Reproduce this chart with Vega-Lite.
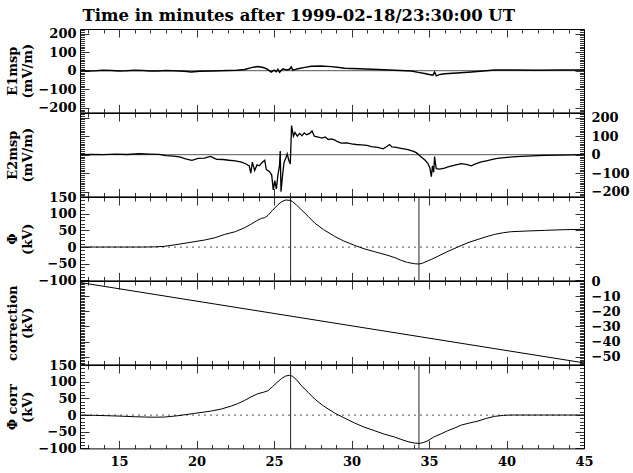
{
  "$schema": "https://vega.github.io/schema/vega-lite/v6.json",
  "padding": {"left": 5, "top": 7, "right": 5, "bottom": 5},
  "title": {"text": "Time in minutes after 1999-02-18/23:30:00 UT", "anchor": "start", "dx": 77, "font": "DejaVu Serif", "fontSize": 16.5, "fontWeight": "bold", "color": "black", "offset": -1},
  "datasets": {
    "e1": [
      {"t": 12.48, "v": 1}, {"t": 13.0, "v": -1}, {"t": 13.5, "v": 0}, {"t": 14.0, "v": 2}, {"t": 14.5, "v": 1}, {"t": 15.0, "v": -1},
      {"t": 15.5, "v": 0}, {"t": 16.0, "v": 2}, {"t": 16.5, "v": 1}, {"t": 17.0, "v": -1}, {"t": 17.5, "v": -1}, {"t": 18.0, "v": 1},
      {"t": 18.5, "v": 0}, {"t": 19.2, "v": -3}, {"t": 19.66, "v": -7}, {"t": 20.2, "v": -3}, {"t": 21.0, "v": -2}, {"t": 22.0, "v": 1},
      {"t": 22.6, "v": 2}, {"t": 23.11, "v": 7}, {"t": 23.6, "v": 18}, {"t": 23.96, "v": 22}, {"t": 24.3, "v": 17}, {"t": 24.5, "v": 11},
      {"t": 24.82, "v": -7}, {"t": 25.0, "v": 3}, {"t": 25.15, "v": -5}, {"t": 25.25, "v": 7}, {"t": 25.36, "v": -8}, {"t": 25.5, "v": 5},
      {"t": 25.58, "v": 10}, {"t": 25.8, "v": 4}, {"t": 26.0, "v": 8}, {"t": 26.11, "v": 20}, {"t": 26.22, "v": 2}, {"t": 26.54, "v": 11},
      {"t": 27.0, "v": 18}, {"t": 27.4, "v": 24}, {"t": 28.0, "v": 25}, {"t": 28.69, "v": 22}, {"t": 29.2, "v": 17}, {"t": 29.56, "v": 13},
      {"t": 30.5, "v": 10}, {"t": 31.71, "v": 7}, {"t": 32.8, "v": 2}, {"t": 33.86, "v": -2}, {"t": 34.3, "v": -9}, {"t": 34.72, "v": -15},
      {"t": 35.0, "v": -20}, {"t": 35.25, "v": -24}, {"t": 35.36, "v": -8}, {"t": 35.47, "v": -28}, {"t": 35.7, "v": -20}, {"t": 36.01, "v": -16},
      {"t": 36.8, "v": -12}, {"t": 37.73, "v": -7}, {"t": 38.5, "v": -2}, {"t": 39.23, "v": 4}, {"t": 40.5, "v": 4}, {"t": 42.0, "v": 3},
      {"t": 43.5, "v": 4}, {"t": 45.0, "v": 4}
    ],
    "e2": [
      {"t": 12.48, "v": 0}, {"t": 13.2, "v": 2}, {"t": 14.0, "v": 0}, {"t": 14.8, "v": 3}, {"t": 15.5, "v": 1}, {"t": 16.3, "v": 5},
      {"t": 17.0, "v": 3}, {"t": 17.6, "v": 2}, {"t": 18.0, "v": -5}, {"t": 18.5, "v": -8}, {"t": 18.9, "v": -12}, {"t": 19.3, "v": -22},
      {"t": 19.7, "v": -30}, {"t": 20.1, "v": -20}, {"t": 20.5, "v": -18}, {"t": 20.9, "v": -9}, {"t": 21.3, "v": -25}, {"t": 21.7, "v": -26},
      {"t": 22.1, "v": -30}, {"t": 22.5, "v": -33}, {"t": 22.9, "v": -40}, {"t": 23.2, "v": -50}, {"t": 23.4, "v": -60}, {"t": 23.5, "v": -100},
      {"t": 23.6, "v": -40}, {"t": 23.75, "v": -85}, {"t": 23.9, "v": -55}, {"t": 24.05, "v": -60}, {"t": 24.2, "v": -45}, {"t": 24.4, "v": -30},
      {"t": 24.5, "v": -80}, {"t": 24.7, "v": -90}, {"t": 24.85, "v": -110}, {"t": 24.95, "v": -190}, {"t": 25.05, "v": -140}, {"t": 25.15, "v": -185},
      {"t": 25.25, "v": -110}, {"t": 25.35, "v": -60}, {"t": 25.4, "v": 20}, {"t": 25.45, "v": -200}, {"t": 25.55, "v": -110}, {"t": 25.65, "v": -40},
      {"t": 25.75, "v": -20}, {"t": 25.85, "v": 5}, {"t": 25.95, "v": -30}, {"t": 26.05, "v": -50}, {"t": 26.1, "v": 80}, {"t": 26.13, "v": 157},
      {"t": 26.25, "v": 100}, {"t": 26.35, "v": 120}, {"t": 26.5, "v": 100}, {"t": 26.65, "v": 115}, {"t": 26.8, "v": 102}, {"t": 26.95, "v": 118},
      {"t": 27.1, "v": 108}, {"t": 27.3, "v": 115}, {"t": 27.45, "v": 128}, {"t": 27.6, "v": 100}, {"t": 27.85, "v": 95}, {"t": 28.1, "v": 90},
      {"t": 28.3, "v": 96}, {"t": 28.5, "v": 82}, {"t": 28.7, "v": 85}, {"t": 28.9, "v": 80}, {"t": 29.1, "v": 70}, {"t": 29.34, "v": 62},
      {"t": 29.7, "v": 64}, {"t": 30.0, "v": 58}, {"t": 30.3, "v": 55}, {"t": 30.63, "v": 53}, {"t": 31.0, "v": 50}, {"t": 31.27, "v": 44},
      {"t": 31.7, "v": 40}, {"t": 32.03, "v": 32}, {"t": 32.2, "v": 40}, {"t": 32.46, "v": 55}, {"t": 32.6, "v": 42}, {"t": 32.78, "v": 41},
      {"t": 33.2, "v": 34}, {"t": 33.64, "v": 27}, {"t": 34.0, "v": 18}, {"t": 34.18, "v": 11}, {"t": 34.5, "v": -12}, {"t": 34.75, "v": -30},
      {"t": 34.93, "v": -48}, {"t": 35.05, "v": -70}, {"t": 35.15, "v": -119}, {"t": 35.22, "v": -60}, {"t": 35.3, "v": -95}, {"t": 35.36, "v": -10},
      {"t": 35.42, "v": -50}, {"t": 35.47, "v": -75}, {"t": 35.69, "v": -78}, {"t": 36.0, "v": -72}, {"t": 36.22, "v": -66}, {"t": 36.6, "v": -58},
      {"t": 37.08, "v": -48}, {"t": 37.4, "v": -52}, {"t": 37.73, "v": -60}, {"t": 38.0, "v": -50}, {"t": 38.37, "v": -39}, {"t": 38.7, "v": -33},
      {"t": 39.02, "v": -27}, {"t": 39.4, "v": -20}, {"t": 39.88, "v": -16}, {"t": 40.4, "v": -12}, {"t": 40.95, "v": -9}, {"t": 41.7, "v": -6},
      {"t": 42.46, "v": -4}, {"t": 43.5, "v": -2}, {"t": 44.3, "v": -1}, {"t": 45.0, "v": 0}
    ],
    "phi": [
      {"t": 12.48, "v": 0}, {"t": 13.5, "v": 0}, {"t": 14.5, "v": 0}, {"t": 15.5, "v": 0}, {"t": 16.5, "v": 0}, {"t": 17.3, "v": 0.5},
      {"t": 17.9, "v": 2}, {"t": 18.59, "v": 6.5}, {"t": 19.45, "v": 13}, {"t": 20.52, "v": 21}, {"t": 21.2, "v": 28}, {"t": 21.82, "v": 38},
      {"t": 22.5, "v": 46}, {"t": 23.11, "v": 58}, {"t": 23.5, "v": 68}, {"t": 23.96, "v": 81}, {"t": 24.2, "v": 86}, {"t": 24.4, "v": 88},
      {"t": 24.61, "v": 95}, {"t": 24.9, "v": 110}, {"t": 25.25, "v": 127}, {"t": 25.5, "v": 136}, {"t": 25.75, "v": 141}, {"t": 26.03, "v": 140},
      {"t": 26.2, "v": 136}, {"t": 26.45, "v": 126}, {"t": 26.76, "v": 112}, {"t": 27.2, "v": 92}, {"t": 27.62, "v": 72}, {"t": 28.2, "v": 52},
      {"t": 28.91, "v": 32}, {"t": 29.5, "v": 18}, {"t": 30.2, "v": 5}, {"t": 30.8, "v": -5}, {"t": 31.49, "v": -14}, {"t": 32.35, "v": -25},
      {"t": 32.8, "v": -32}, {"t": 33.21, "v": -40}, {"t": 33.6, "v": -46}, {"t": 34.07, "v": -50}, {"t": 34.35, "v": -51}, {"t": 34.6, "v": -48},
      {"t": 35.15, "v": -37}, {"t": 35.6, "v": -27}, {"t": 36.22, "v": -13}, {"t": 36.8, "v": -1}, {"t": 37.51, "v": 13}, {"t": 38.16, "v": 23},
      {"t": 38.7, "v": 31}, {"t": 39.23, "v": 38}, {"t": 39.8, "v": 43}, {"t": 40.31, "v": 46}, {"t": 41.3, "v": 48}, {"t": 42.46, "v": 50},
      {"t": 43.7, "v": 52}, {"t": 45.0, "v": 53}
    ],
    "corr": [
      {"t": 12.48, "v": -1}, {"t": 45.0, "v": -54}
    ],
    "phic": [
      {"t": 12.48, "v": 0}, {"t": 13.5, "v": -1}, {"t": 14.93, "v": -3}, {"t": 16.0, "v": -5}, {"t": 16.65, "v": -6}, {"t": 17.3, "v": -6.5},
      {"t": 17.94, "v": -6}, {"t": 18.4, "v": -4}, {"t": 18.8, "v": -2}, {"t": 19.88, "v": 5}, {"t": 20.95, "v": 12}, {"t": 21.6, "v": 18},
      {"t": 22.24, "v": 27}, {"t": 22.7, "v": 35}, {"t": 23.11, "v": 44}, {"t": 23.5, "v": 54}, {"t": 23.96, "v": 64}, {"t": 24.3, "v": 68},
      {"t": 24.61, "v": 73}, {"t": 24.9, "v": 85}, {"t": 25.2, "v": 98}, {"t": 25.5, "v": 110}, {"t": 25.75, "v": 117}, {"t": 26.0, "v": 119},
      {"t": 26.2, "v": 116}, {"t": 26.45, "v": 106}, {"t": 26.76, "v": 88}, {"t": 27.2, "v": 68}, {"t": 27.62, "v": 48}, {"t": 28.2, "v": 27},
      {"t": 28.91, "v": 6}, {"t": 29.5, "v": -8}, {"t": 30.2, "v": -24}, {"t": 30.8, "v": -36}, {"t": 31.49, "v": -47}, {"t": 32.1, "v": -57},
      {"t": 32.78, "v": -66}, {"t": 33.2, "v": -73}, {"t": 33.64, "v": -80}, {"t": 34.07, "v": -84}, {"t": 34.35, "v": -85}, {"t": 34.6, "v": -83},
      {"t": 34.93, "v": -77}, {"t": 35.3, "v": -66}, {"t": 35.79, "v": -56}, {"t": 36.2, "v": -47}, {"t": 36.65, "v": -39}, {"t": 37.09, "v": -30},
      {"t": 37.51, "v": -25}, {"t": 38.16, "v": -18}, {"t": 38.7, "v": -10}, {"t": 39.23, "v": -4}, {"t": 39.8, "v": -1}, {"t": 40.31, "v": 0},
      {"t": 41.5, "v": 0}, {"t": 43.0, "v": 0}, {"t": 45.0, "v": 0}
    ],
    "zero": [{"v": 0}],
    "marks": [{"t": 26.07}, {"t": 34.35}]
  },
  "spacing": 0,
  "bounds": "flush",
  "vconcat": [
    {
      "width": 504, "height": 83.4,
      "layer": [
        {"data": {"name": "zero"}, "mark": {"type": "rule", "color": "#555", "strokeWidth": 1}, "encoding": {"y": {"field": "v", "type": "quantitative", "axis": null}}},
        {"data": {"name": "e1"}, "mark": {"type": "line", "color": "black", "strokeWidth": 1.5, "clip": true},
          "encoding": {
            "x": {"field": "t", "type": "quantitative", "scale": {"domain": [12.48, 45], "nice": false, "zero": false},
              "axis": {"orient": "bottom", "values": [13,14,15,16,17,18,19,20,21,22,23,24,25,26,27,28,29,30,31,32,33,34,35,36,37,38,39,40,41,42,43,44,45], "labels": false, "title": null, "tickSize": {"condition": {"test": "datum.value % 5 === 0", "value": -8}, "value": -4}}},
            "y": {"field": "v", "type": "quantitative", "scale": {"domain": [-225, 225], "nice": false, "zero": false},
              "axis": {"orient": "left", "values": [-220,-210,-200,-190,-180,-170,-160,-150,-140,-130,-120,-110,-100,-90,-80,-70,-60,-50,-40,-30,-20,-10,0,10,20,30,40,50,60,70,80,90,100,110,120,130,140,150,160,170,180,190,200,210,220], "labelExpr": "datum.value % 100 === 0 ? datum.label : ''", "tickSize": {"condition": {"test": "datum.value % 100 === 0", "value": -9}, "value": -4.5}, "labelPadding": 13, "title": ["E1msp", "(mV/m)"], "titleX": -74, "titleY": 41.7, "titleBaseline": "top", "titleAlign": "center"}}
          }},
        {"data": {"name": "e1"}, "mark": {"type": "line", "opacity": 0},
          "encoding": {
            "x": {"field": "t", "type": "quantitative", "axis": {"orient": "top", "values": [13,14,15,16,17,18,19,20,21,22,23,24,25,26,27,28,29,30,31,32,33,34,35,36,37,38,39,40,41,42,43,44,45], "labels": false, "title": null, "tickSize": {"condition": {"test": "datum.value % 5 === 0", "value": -8}, "value": -4}}},
            "y": {"field": "v", "type": "quantitative", "axis": {"orient": "right", "values": [-220,-210,-200,-190,-180,-170,-160,-150,-140,-130,-120,-110,-100,-90,-80,-70,-60,-50,-40,-30,-20,-10,0,10,20,30,40,50,60,70,80,90,100,110,120,130,140,150,160,170,180,190,200,210,220], "labels": false, "title": null, "tickSize": {"condition": {"test": "datum.value % 100 === 0", "value": -9}, "value": -4.5}}}
          }}
      ]
    },
    {
      "width": 504, "height": 83.4,
      "layer": [
        {"data": {"name": "zero"}, "mark": {"type": "rule", "color": "#555", "strokeWidth": 1}, "encoding": {"y": {"field": "v", "type": "quantitative", "axis": null}}},
        {"data": {"name": "e2"}, "mark": {"type": "line", "color": "black", "strokeWidth": 1.3, "clip": true},
          "encoding": {
            "x": {"field": "t", "type": "quantitative", "scale": {"domain": [12.48, 45], "nice": false, "zero": false},
              "axis": {"orient": "bottom", "values": [13,14,15,16,17,18,19,20,21,22,23,24,25,26,27,28,29,30,31,32,33,34,35,36,37,38,39,40,41,42,43,44,45], "labels": false, "title": null, "tickSize": {"condition": {"test": "datum.value % 5 === 0", "value": -8}, "value": -4}}},
            "y": {"field": "v", "type": "quantitative", "scale": {"domain": [-225, 225], "nice": false, "zero": false},
              "axis": {"orient": "left", "values": [-220,-210,-200,-190,-180,-170,-160,-150,-140,-130,-120,-110,-100,-90,-80,-70,-60,-50,-40,-30,-20,-10,0,10,20,30,40,50,60,70,80,90,100,110,120,130,140,150,160,170,180,190,200,210,220], "labels": false, "tickSize": {"condition": {"test": "datum.value % 100 === 0", "value": -9}, "value": -4.5}, "title": ["E2msp", "(mV/m)"], "titleX": -74, "titleY": 41.7, "titleBaseline": "top", "titleAlign": "center"}}
          }},
        {"data": {"name": "e2"}, "mark": {"type": "line", "opacity": 0},
          "encoding": {
            "x": {"field": "t", "type": "quantitative", "axis": {"orient": "top", "values": [13,14,15,16,17,18,19,20,21,22,23,24,25,26,27,28,29,30,31,32,33,34,35,36,37,38,39,40,41,42,43,44,45], "labels": false, "title": null, "tickSize": {"condition": {"test": "datum.value % 5 === 0", "value": -8}, "value": -4}}},
            "y": {"field": "v", "type": "quantitative", "axis": {"orient": "right", "values": [-220,-210,-200,-190,-180,-170,-160,-150,-140,-130,-120,-110,-100,-90,-80,-70,-60,-50,-40,-30,-20,-10,0,10,20,30,40,50,60,70,80,90,100,110,120,130,140,150,160,170,180,190,200,210,220], "labelExpr": "datum.value % 100 === 0 ? datum.label : ''", "labelPadding": 16, "title": null, "tickSize": {"condition": {"test": "datum.value % 100 === 0", "value": -9}, "value": -4.5}}}
          }}
      ]
    },
    {
      "width": 504, "height": 83.4,
      "layer": [
        {"data": {"name": "zero"}, "mark": {"type": "rule", "color": "#777", "strokeWidth": 1.2, "strokeDash": [2, 4]}, "encoding": {"y": {"field": "v", "type": "quantitative", "axis": null}}},
        {"data": {"name": "marks"}, "mark": {"type": "rule", "color": "#222", "strokeWidth": 1}, "encoding": {"x": {"field": "t", "type": "quantitative", "axis": null}}},
        {"data": {"name": "phi"}, "mark": {"type": "line", "color": "black", "strokeWidth": 1, "clip": true},
          "encoding": {
            "x": {"field": "t", "type": "quantitative", "scale": {"domain": [12.48, 45], "nice": false, "zero": false},
              "axis": {"orient": "bottom", "values": [13,14,15,16,17,18,19,20,21,22,23,24,25,26,27,28,29,30,31,32,33,34,35,36,37,38,39,40,41,42,43,44,45], "labels": false, "title": null, "tickSize": {"condition": {"test": "datum.value % 5 === 0", "value": -8}, "value": -4}}},
            "y": {"field": "v", "type": "quantitative", "scale": {"domain": [-100, 150], "nice": false, "zero": false},
              "axis": {"orient": "left", "values": [-100,-90,-80,-70,-60,-50,-40,-30,-20,-10,0,10,20,30,40,50,60,70,80,90,100,110,120,130,140,150], "labelExpr": "datum.value % 50 === 0 ? datum.label : ''", "tickSize": {"condition": {"test": "datum.value % 50 === 0", "value": -9}, "value": -4.5}, "labelPadding": 13, "title": ["Φ", "(kV)"], "titleX": -74, "titleY": 41.7, "titleBaseline": "top", "titleAlign": "center"}}
          }},
        {"data": {"name": "phi"}, "mark": {"type": "line", "opacity": 0},
          "encoding": {
            "x": {"field": "t", "type": "quantitative", "axis": {"orient": "top", "values": [13,14,15,16,17,18,19,20,21,22,23,24,25,26,27,28,29,30,31,32,33,34,35,36,37,38,39,40,41,42,43,44,45], "labels": false, "title": null, "tickSize": {"condition": {"test": "datum.value % 5 === 0", "value": -8}, "value": -4}}},
            "y": {"field": "v", "type": "quantitative", "axis": {"orient": "right", "values": [-100,-90,-80,-70,-60,-50,-40,-30,-20,-10,0,10,20,30,40,50,60,70,80,90,100,110,120,130,140,150], "labels": false, "title": null, "tickSize": {"condition": {"test": "datum.value % 50 === 0", "value": -9}, "value": -4.5}}}
          }}
      ]
    },
    {
      "width": 504, "height": 83.4,
      "layer": [
        {"data": {"name": "corr"}, "mark": {"type": "line", "color": "black", "strokeWidth": 1, "clip": true},
          "encoding": {
            "x": {"field": "t", "type": "quantitative", "scale": {"domain": [12.48, 45], "nice": false, "zero": false},
              "axis": {"orient": "bottom", "values": [13,14,15,16,17,18,19,20,21,22,23,24,25,26,27,28,29,30,31,32,33,34,35,36,37,38,39,40,41,42,43,44,45], "labels": false, "title": null, "tickSize": {"condition": {"test": "datum.value % 5 === 0", "value": -8}, "value": -4}}},
            "y": {"field": "v", "type": "quantitative", "scale": {"domain": [-55, 0], "nice": false, "zero": false},
              "axis": {"orient": "left", "values": [-55,-54,-53,-52,-51,-50,-49,-48,-47,-46,-45,-44,-43,-42,-41,-40,-39,-38,-37,-36,-35,-34,-33,-32,-31,-30,-29,-28,-27,-26,-25,-24,-23,-22,-21,-20,-19,-18,-17,-16,-15,-14,-13,-12,-11,-10,-9,-8,-7,-6,-5,-4,-3,-2,-1,0], "labels": false, "tickSize": {"condition": {"test": "datum.value % 10 === 0", "value": -9}, "value": -4.5}, "title": ["correction", "(kV)"], "titleX": -74, "titleY": 41.7, "titleBaseline": "top", "titleAlign": "center"}}
          }},
        {"data": {"name": "corr"}, "mark": {"type": "line", "opacity": 0},
          "encoding": {
            "x": {"field": "t", "type": "quantitative", "axis": {"orient": "top", "values": [13,14,15,16,17,18,19,20,21,22,23,24,25,26,27,28,29,30,31,32,33,34,35,36,37,38,39,40,41,42,43,44,45], "labels": false, "title": null, "tickSize": {"condition": {"test": "datum.value % 5 === 0", "value": -8}, "value": -4}}},
            "y": {"field": "v", "type": "quantitative", "axis": {"orient": "right", "values": [-55,-54,-53,-52,-51,-50,-49,-48,-47,-46,-45,-44,-43,-42,-41,-40,-39,-38,-37,-36,-35,-34,-33,-32,-31,-30,-29,-28,-27,-26,-25,-24,-23,-22,-21,-20,-19,-18,-17,-16,-15,-14,-13,-12,-11,-10,-9,-8,-7,-6,-5,-4,-3,-2,-1,0], "labelExpr": "datum.value % 10 === 0 ? datum.label : ''", "labelPadding": 16, "title": null, "tickSize": {"condition": {"test": "datum.value % 10 === 0", "value": -9}, "value": -4.5}}}
          }}
      ]
    },
    {
      "width": 504, "height": 83.4,
      "layer": [
        {"data": {"name": "zero"}, "mark": {"type": "rule", "color": "#777", "strokeWidth": 1.2, "strokeDash": [2, 4]}, "encoding": {"y": {"field": "v", "type": "quantitative", "axis": null}}},
        {"data": {"name": "marks"}, "mark": {"type": "rule", "color": "#222", "strokeWidth": 1}, "encoding": {"x": {"field": "t", "type": "quantitative", "axis": null}}},
        {"data": {"name": "phic"}, "mark": {"type": "line", "color": "black", "strokeWidth": 1, "clip": true},
          "encoding": {
            "x": {"field": "t", "type": "quantitative", "scale": {"domain": [12.48, 45], "nice": false, "zero": false},
              "axis": {"orient": "bottom", "values": [13,14,15,16,17,18,19,20,21,22,23,24,25,26,27,28,29,30,31,32,33,34,35,36,37,38,39,40,41,42,43,44,45], "labelExpr": "datum.value % 5 === 0 ? datum.label : ''", "labelPadding": 15, "title": null, "tickSize": {"condition": {"test": "datum.value % 5 === 0", "value": -8}, "value": -4}}},
            "y": {"field": "v", "type": "quantitative", "scale": {"domain": [-100, 150], "nice": false, "zero": false},
              "axis": {"orient": "left", "values": [-100,-90,-80,-70,-60,-50,-40,-30,-20,-10,0,10,20,30,40,50,60,70,80,90,100,110,120,130,140,150], "labelExpr": "datum.value % 50 === 0 ? datum.label : ''", "tickSize": {"condition": {"test": "datum.value % 50 === 0", "value": -9}, "value": -4.5}, "labelPadding": 13, "title": ["Φ corr", "(kV)"], "titleX": -74, "titleY": 41.7, "titleBaseline": "top", "titleAlign": "center"}}
          }},
        {"data": {"name": "phic"}, "mark": {"type": "line", "opacity": 0},
          "encoding": {
            "x": {"field": "t", "type": "quantitative", "axis": {"orient": "top", "values": [13,14,15,16,17,18,19,20,21,22,23,24,25,26,27,28,29,30,31,32,33,34,35,36,37,38,39,40,41,42,43,44,45], "labels": false, "title": null, "tickSize": {"condition": {"test": "datum.value % 5 === 0", "value": -8}, "value": -4}}},
            "y": {"field": "v", "type": "quantitative", "axis": {"orient": "right", "values": [-100,-90,-80,-70,-60,-50,-40,-30,-20,-10,0,10,20,30,40,50,60,70,80,90,100,110,120,130,140,150], "labels": false, "title": null, "tickSize": {"condition": {"test": "datum.value % 50 === 0", "value": -9}, "value": -4.5}}}
          }}
      ]
    }
  ],
  "config": {
    "view": {"stroke": "black", "strokeWidth": 1},
    "font": "DejaVu Serif",
    "axis": {"domain": false, "grid": false, "labelFont": "DejaVu Serif", "labelFontWeight": "bold", "labelFontSize": 13, "labelColor": "black", "titleFont": "DejaVu Serif", "titleFontWeight": "bold", "titleFontSize": 13, "titleColor": "black", "tickColor": "black", "tickWidth": 0.8, "labelOverlap": false, "labelFlush": false}
  }
}
